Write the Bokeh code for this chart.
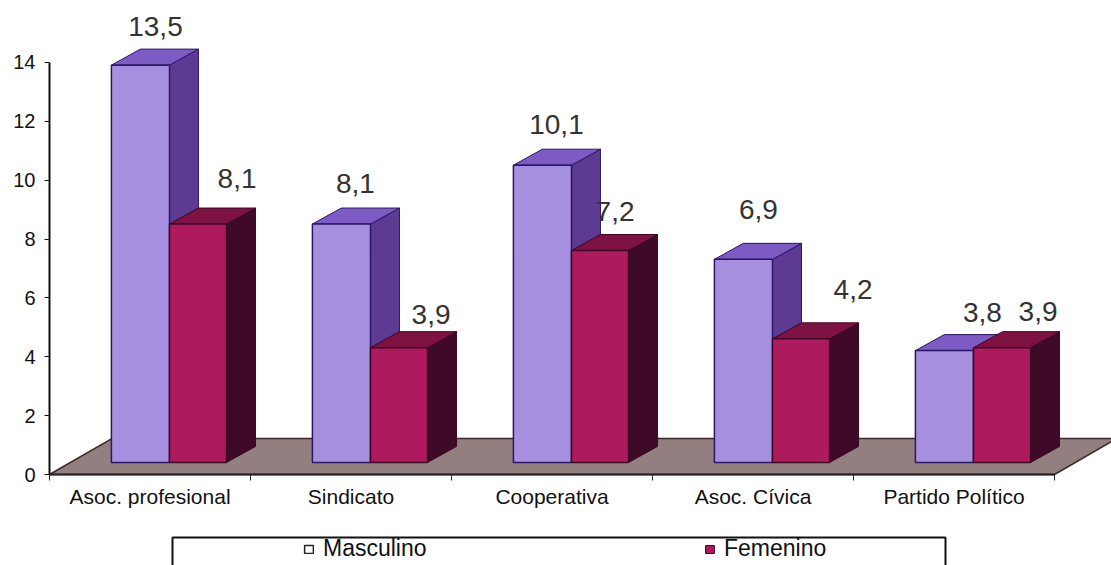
from bokeh.embed import file_html
from bokeh.resources import INLINE
from bokeh.core.properties import value
from bokeh.plotting import figure
from bokeh.models import ColumnDataSource, FixedTicker, Legend, LegendItem, BoxAnnotation, Range1d

categories = ["Asoc. profesional", "Sindicato", "Cooperativa", "Asoc. Cívica", "Partido Político"]
masculino = [13.5, 8.1, 10.1, 6.9, 3.8]
femenino = [8.1, 3.9, 7.2, 4.2, 3.9]
y_ticks = [0, 2, 4, 6, 8, 10, 12, 14]
series_names = ["Masculino", "Femenino"]

# label nudges in pixels relative to the front-top-centre of each bar
m_dx, m_dy = [15, 14, 14, 15, 38], [39, 41, 41, 50, 38]
f_dx, f_dy = [39, 32, 15, 52, 36], [46, 33, 39, 49, 36]

FONT = "Liberation Sans"
# 3-D projection, in data units
LEFT, MID, RIGHT = -0.192, 0.097, 0.381
DX, DY = 0.144, 0.544
LIFT = 0.41
FLOOR_DX, FLOOR_DY = 0.31, 1.22

p = figure(width=1111, height=565, output_backend="svg", toolbar_location=None,
           x_range=Range1d(-0.2438, 5.2836), y_range=Range1d(-3.092, 16.106),
           min_border_left=0, min_border_right=0, min_border_top=0, min_border_bottom=0,
           outline_line_color=None, background_fill_color="white")
p.grid.visible = False

# floor
p.patch([0, FLOOR_DX, 5 + FLOOR_DX, 5], [0, FLOOR_DY, FLOOR_DY, 0],
        fill_color="#937f80", line_color="#3a2a2a", line_width=1.5)


def bars(vals, x0, x1, front, top, side, edge):
    n = range(len(vals))
    c = [i + 0.5 for i in n]
    tops = [LIFT + v for v in vals]
    # right side face
    p.patches([[c[i] + x1, c[i] + x1 + DX, c[i] + x1 + DX, c[i] + x1] for i in n],
              [[LIFT, LIFT + DY, tops[i] + DY, tops[i]] for i in n],
              fill_color=side, line_color=edge, line_width=1)
    # top face
    p.patches([[c[i] + x0, c[i] + x0 + DX, c[i] + x1 + DX, c[i] + x1] for i in n],
              [[tops[i], tops[i] + DY, tops[i] + DY, tops[i]] for i in n],
              fill_color=top, line_color=edge, line_width=1)
    # front face
    p.quad(left=[c[i] + x0 for i in n], right=[c[i] + x1 for i in n],
           bottom=[LIFT] * len(vals), top=tops,
           fill_color=front, line_color=edge, line_width=1.5)


bars(masculino, LEFT, MID, "#a68fdf", "#7c5cc4", "#5d3b92", "#2a1664")
bars(femenino, MID, RIGHT, "#ad1b5e", "#7e1242", "#3f0a28", "#3a0822")

# data labels
n = range(len(categories))
lab_x = [i + 0.5 + (LEFT + MID) / 2 for i in n] + [i + 0.5 + (MID + RIGHT) / 2 for i in n]
lab_y = [LIFT + v for v in masculino] + [LIFT + v for v in femenino]
lab_t = [f"{v:.1f}".replace(".", ",") for v in masculino + femenino]
src = ColumnDataSource(dict(x=lab_x, y=lab_y, t=lab_t, dx=m_dx + f_dx, dy=[-d for d in m_dy + f_dy]))
p.text("x", "y", text="t", source=src, x_offset="dx", y_offset="dy",
       text_font=value(FONT), text_font_size="28px", text_color="#333333",
       text_align="center", text_baseline="alphabetic")

# axes, pinned inside the frame at zero
ya = p.yaxis[0]
ya.fixed_location = 0
ya.ticker = FixedTicker(ticks=y_ticks)
ya.bounds = (0, 14)
ya.axis_line_color = "#111111"
ya.axis_line_width = 2
ya.major_tick_in = 0
ya.major_tick_out = 5
ya.major_tick_line_color = "#111111"
ya.minor_tick_line_color = None
ya.major_label_text_font = FONT
ya.major_label_text_font_size = "20px"
ya.major_label_text_color = "#111111"
ya.major_label_standoff = 9

xa = p.xaxis[0]
xa.fixed_location = 0
xa.ticker = FixedTicker(ticks=[i + 0.5 for i in n], minor_ticks=list(range(len(categories) + 1)))
xa.major_label_overrides = {i + 0.5: c for i, c in enumerate(categories)}
xa.bounds = (0, 5)
xa.axis_line_color = "#222222"
xa.axis_line_width = 2
xa.major_tick_line_color = None
xa.minor_tick_in = 0
xa.minor_tick_out = 6
xa.minor_tick_line_color = "#222222"
xa.major_label_text_font = FONT
xa.major_label_text_font_size = "21px"
xa.major_label_text_color = "#111111"
xa.major_label_standoff = 4

# legend frame (its lower edge runs off the page, as in the reference)
p.add_layout(BoxAnnotation(left=172, right=945, top=537, bottom=580,
                           left_units="canvas", right_units="canvas",
                           top_units="canvas", bottom_units="canvas",
                           fill_color="white", fill_alpha=1,
                           line_color="#111111", line_alpha=1, line_width=2, level="overlay"))
nan = float("nan")
r1 = p.quad(left=[nan], right=[nan], bottom=[nan], top=[nan],
            fill_color="white", line_color="#222222", line_width=1.5)
r2 = p.quad(left=[nan], right=[nan], bottom=[nan], top=[nan],
            fill_color="#ad1b5e", line_color="#3a0822", line_width=1)
leg = Legend(items=[LegendItem(label=series_names[0], renderers=[r1]),
                    LegendItem(label=series_names[1], renderers=[r2])],
             orientation="horizontal", location=(303, 3), padding=2, margin=0,
             spacing=0, glyph_width=11, glyph_height=10, label_standoff=9, label_width=381,
             border_line_color=None, background_fill_alpha=0,
             label_text_font=FONT, label_text_font_size="23px", label_text_color="#111111",
             level="overlay")
p.add_layout(leg)

open("out.html", "w").write(file_html(p, INLINE))
